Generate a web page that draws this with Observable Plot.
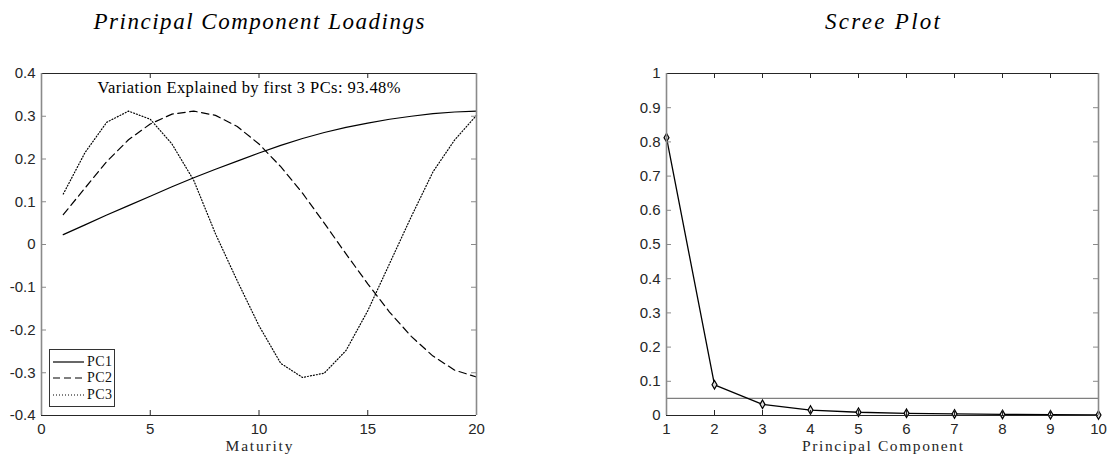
<!DOCTYPE html>
<html><head><meta charset="utf-8">
<script src="https://cdn.jsdelivr.net/npm/d3@7"></script>
<script src="https://cdn.jsdelivr.net/npm/@observablehq/plot@0.6"></script>
<style>
body{margin:0;background:#fff;}
#wrap{position:relative;width:1111px;height:457px;overflow:hidden;background:#fff;}
#left{position:absolute;left:0;top:0;}
#right{position:absolute;left:555px;top:0;}
#legend{position:absolute;left:49px;top:349px;width:64px;height:56px;border:1px solid #333;background:#fff;font-family:"Liberation Serif",serif;font-size:14px;color:#111;}
.row{position:absolute;left:2px;height:16px;display:flex;align-items:center;}
.row span{margin-left:3px;letter-spacing:0.4px;}
</style></head><body>
<div id="wrap"><div id="left"></div><div id="right"></div><div id="legend"></div></div>
<script>
// ---- Data ----
const maturity = [1,2,3,4,5,6,7,8,9,10,11,12,13,14,15,16,17,18,19,20];
const pc1 = [0.023,0.046,0.069,0.091,0.113,0.135,0.156,0.176,0.195,0.214,0.232,0.248,0.262,0.274,0.284,0.293,0.300,0.306,0.310,0.312];
const pc2 = [0.070,0.132,0.194,0.245,0.282,0.305,0.312,0.302,0.276,0.235,0.182,0.120,0.050,-0.022,-0.092,-0.158,-0.215,-0.261,-0.294,-0.310];
const pc3 = [0.118,0.215,0.286,0.312,0.293,0.235,0.150,0.025,-0.085,-0.190,-0.278,-0.311,-0.301,-0.248,-0.155,-0.045,0.065,0.170,0.245,0.302];
const seriesNames = ["PC1","PC2","PC3"];
const seriesDash = [null,"7.5,4.5","1,2"];

const components = [1,2,3,4,5,6,7,8,9,10];
const explained = [0.8125,0.0897,0.0326,0.0160,0.0095,0.0065,0.0045,0.0032,0.0022,0.0015];
const threshold = [0.05];

const leftXDomain = [0,20];
const leftYDomain = [-0.4,0.4];
const leftXTicks = [0,5,10,15,20];
const leftXTickLabels = ["0","5","10","15","20"];
const leftYTicks = [-0.4,-0.3,-0.2,-0.1,0,0.1,0.2,0.3,0.4];
const leftYTickLabels = ["-0.4","-0.3","-0.2","-0.1","0","0.1","0.2","0.3","0.4"];

const rightXDomain = [1,10];
const rightYDomain = [0,1];
const rightXTicks = [1,2,3,4,5,6,7,8,9,10];
const rightXTickLabels = ["1","2","3","4","5","6","7","8","9","10"];
const rightYTicks = [0,0.1,0.2,0.3,0.4,0.5,0.6,0.7,0.8,0.9,1];
const rightYTickLabels = ["0","0.1","0.2","0.3","0.4","0.5","0.6","0.7","0.8","0.9","1"];

const leftTitle = "Principal Component Loadings";
const rightTitle = "Scree Plot";
const leftXLabel = "Maturity";
const rightXLabel = "Principal Component";
const annotation = "Variation Explained by first 3 PCs: 93.48%";

// ---- Helpers ----
const H = 457, MT = 73, MB = 42;
const PH = H - MT - MB;
const serif = "'Liberation Serif', 'Times New Roman', serif";
const sans = "'Liberation Sans', Arial, Helvetica, sans-serif";
const axisDark = "#262626", axisGray = "#8a8a8a";

function frameMarks(xDom, yDom, xTicks, yTicks, xLabs, yLabs, PW) {
  const fx = d => xLabs[xTicks.indexOf(d)];
  const fy = d => yLabs[yTicks.indexOf(d)];
  return [
    Plot.tickX(xTicks, {x: d => d, insetTop: PH - 5, stroke: axisDark, strokeWidth: 1}),
    Plot.tickX(xTicks, {x: d => d, insetBottom: PH - 5, stroke: axisDark, strokeWidth: 1}),
    Plot.tickY(yTicks, {y: d => d, insetRight: PW - 5, stroke: axisGray, strokeWidth: 1}),
    Plot.tickY(yTicks, {y: d => d, insetLeft: PW - 5, stroke: axisGray, strokeWidth: 1}),
    Plot.ruleY(yDom, {stroke: axisDark, strokeWidth: 1}),
    Plot.ruleX(xDom, {stroke: axisGray, strokeWidth: 1.6}),
    Plot.axisX({ticks: xTicks, tickFormat: fx, tickSize: 0, tickPadding: 8, label: null, fontSize: 15, fill: axisDark}),
    Plot.axisY({ticks: yTicks, tickFormat: fy, tickSize: 0, tickPadding: 6, label: null, fontSize: 15, fill: axisDark})
  ];
}

function fitText(svg, content, length) {
  d3.select(svg).selectAll("text").filter(function() { return this.textContent === content; })
    .attr("textLength", length).attr("lengthAdjust", "spacing");
}

// ---- Left plot ----
const loadings = [pc1, pc2, pc3];
const leftPW = 555 - 41 - 79;
const leftLines = loadings.map((vals, i) =>
  Plot.line(maturity, {x: d => d, y: (d, j) => vals[j], stroke: "black", strokeWidth: 1.2, strokeDasharray: seriesDash[i]})
);
const left = Plot.plot({
  width: 555, height: H, marginLeft: 41, marginRight: 79, marginTop: MT, marginBottom: MB,
  style: {fontFamily: sans, fontSize: "15px", color: axisDark, background: "white", overflow: "visible"},
  x: {domain: leftXDomain}, y: {domain: leftYDomain},
  marks: [
    ...leftLines,
    ...frameMarks(leftXDomain, leftYDomain, leftXTicks, leftYTicks, leftXTickLabels, leftYTickLabels, leftPW),
    Plot.text([annotation], {frameAnchor: "top", lineAnchor: "middle", dx: -10, dy: 14, fontFamily: serif, fontSize: 16.5, fill: "black"}),
    Plot.text([leftTitle], {frameAnchor: "top", lineAnchor: "middle", dy: -52, fontFamily: serif, fontStyle: "italic", fontSize: 23, fill: "black"}),
    Plot.text([leftXLabel], {frameAnchor: "bottom", lineAnchor: "middle", dy: 31, fontFamily: serif, fontSize: 15.5, fill: axisDark})
  ]
});
fitText(left, annotation, 303);
fitText(left, leftTitle, 331);
fitText(left, leftXLabel, 67);
document.getElementById("left").appendChild(left);

// ---- Right plot ----
const rightPW = 556 - 111 - 13;
const right = Plot.plot({
  width: 556, height: H, marginLeft: 111, marginRight: 13, marginTop: MT, marginBottom: MB,
  style: {fontFamily: sans, fontSize: "15px", color: axisDark, background: "white", overflow: "visible"},
  x: {domain: rightXDomain}, y: {domain: rightYDomain},
  marks: [
    Plot.ruleY(threshold, {stroke: "#7f7f7f", strokeWidth: 1.2}),
    Plot.line(components, {x: d => d, y: (d, j) => explained[j], stroke: "black", strokeWidth: 1.3}),
    Plot.dot(components, {x: d => d, y: (d, j) => explained[j], symbol: "diamond", r: 2.6, stroke: "black", strokeWidth: 1.2, fill: "#ddd"}),
    ...frameMarks(rightXDomain, rightYDomain, rightXTicks, rightYTicks, rightXTickLabels, rightYTickLabels, rightPW),
    Plot.text([rightTitle], {frameAnchor: "top", lineAnchor: "middle", dy: -52, fontFamily: serif, fontStyle: "italic", fontSize: 23, fill: "black"}),
    Plot.text([rightXLabel], {frameAnchor: "bottom", lineAnchor: "middle", dy: 31, fontFamily: serif, fontSize: 15.5, fill: axisDark})
  ]
});
fitText(right, rightTitle, 115);
fitText(right, rightXLabel, 161);
document.getElementById("right").appendChild(right);

// ---- Legend ----
const legend = document.getElementById("legend");
const rowTops = [4, 20, 37];
seriesNames.forEach((name, i) => {
  const row = document.createElement("div");
  row.className = "row";
  row.style.top = rowTops[i] + "px";
  const dash = seriesDash[i] ? ` stroke-dasharray="${i === 1 ? "7,4" : "1,2"}"` : "";
  row.innerHTML = `<svg width="32" height="16"><line x1="1" x2="32" y1="8" y2="8" stroke="black" stroke-width="1.2"${dash}/></svg><span>${name}</span>`;
  legend.appendChild(row);
});
</script>
</body></html>
